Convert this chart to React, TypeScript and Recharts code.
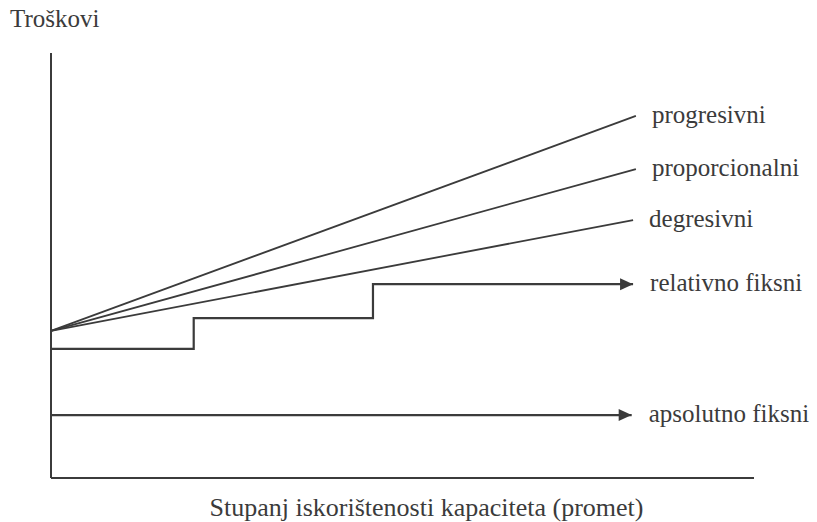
import React from 'react';
import { LineChart, Line, XAxis, YAxis } from 'recharts';

// stupanj iskorištenosti (x) i troškovi (y), 0..100 relativne jedinice
const progresivni = [
  { x: 0, y: 34.6 },
  { x: 83.2, y: 85.2 },
];
const proporcionalni = [
  { x: 0, y: 34.6 },
  { x: 83.2, y: 72.7 },
];
const degresivni = [
  { x: 0, y: 34.6 },
  { x: 82.8, y: 60.7 },
];
const relativnoFiksni = [
  { x: 0, y: 30.4 },
  { x: 20.3, y: 37.6 },
  { x: 45.8, y: 45.6 },
  { x: 82.8, y: 45.6 },
];
const apsolutnoFiksni = [
  { x: 0, y: 14.8 },
  { x: 82.6, y: 14.8 },
];

const yTitle = 'Troškovi';
const xTitle = 'Stupanj iskorištenosti kapaciteta (promet)';

const INK = '#3b3b3b';
const FONT = '"Liberation Serif", "DejaVu Serif", serif';

const series = [
  { name: 'progresivni', data: progresivni, arrow: false, type: 'linear' },
  { name: 'proporcionalni', data: proporcionalni, arrow: false, type: 'linear' },
  { name: 'degresivni', data: degresivni, arrow: false, type: 'linear' },
  { name: 'relativno fiksni', data: relativnoFiksni, arrow: true, type: 'stepAfter' },
  { name: 'apsolutno fiksni', data: apsolutnoFiksni, arrow: true, type: 'linear' },
];

const endMarker = (name: string, arrow: boolean, last: number) => (props: any) => {
  const { cx, cy, index } = props;
  if (index !== last) return <g key={`d-${name}-${index}`} />;
  return (
    <g key={`d-${name}-${index}`}>
      {arrow && (
        <polygon
          points={`${cx - 13},${cy - 6} ${cx},${cy} ${cx - 13},${cy + 6}`}
          fill={INK}
        />
      )}
      <text x={cx + (arrow ? 17 : 16)} y={cy + 7} fontSize={25} fontFamily={FONT} fill={INK}>
        {name}
      </text>
    </g>
  );
};

export default function App() {
  return (
    <div style={{ position: 'absolute', left: 0, top: 0, background: '#fff' }}>
      <LineChart
        width={817}
        height={522}
        margin={{ top: 53, right: 63, bottom: 43, left: 50 }}
      >
        <XAxis
          type="number"
          dataKey="x"
          domain={[0, 100]}
          height={1}
          tick={false}
          tickLine={false}
          axisLine={{ stroke: INK, strokeWidth: 2 }}
          label={{
            value: xTitle,
            content: (p: any) => (
              <text
                x={p.viewBox.x + p.viewBox.width / 2 + 24}
                y={p.viewBox.y + 38}
                textAnchor="middle"
                fontSize={26}
                fontFamily={FONT}
                fill={INK}
              >
                {xTitle}
              </text>
            ),
          }}
        />
        <YAxis
          type="number"
          domain={[0, 100]}
          width={1}
          tick={false}
          tickLine={false}
          axisLine={{ stroke: INK, strokeWidth: 2 }}
          label={{
            value: yTitle,
            content: (p: any) => (
              <text
                x={p.viewBox.x + p.viewBox.width - 41}
                y={p.viewBox.y - 26}
                fontSize={25}
                fontFamily={FONT}
                fill={INK}
              >
                {yTitle}
              </text>
            ),
          }}
        />
        {series.map((s) => (
          <Line
            key={s.name}
            data={s.data}
            dataKey="y"
            type={s.type as any}
            stroke={INK}
            strokeWidth={s.arrow ? 2.2 : 1.8}
            dot={endMarker(s.name, s.arrow, s.data.length - 1)}
            activeDot={false}
            isAnimationActive={false}
          />
        ))}
      </LineChart>
    </div>
  );
}
